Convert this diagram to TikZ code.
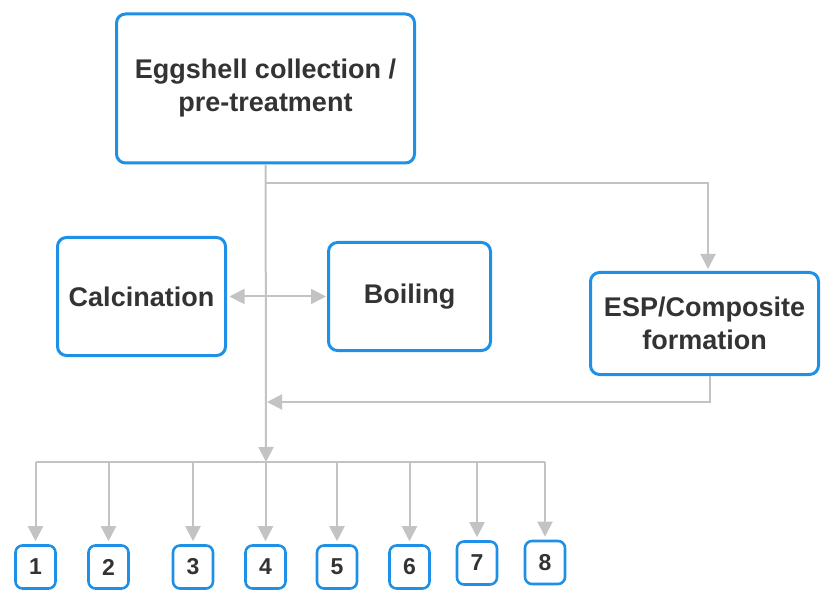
\documentclass[tikz,border=0pt]{standalone}
\usepackage{fontspec}
\setmainfont{Liberation Sans}
\usetikzlibrary{arrows.meta,positioning}
\definecolor{boxblue}{HTML}{1E90E6}
\definecolor{linegray}{HTML}{C3C3C3}
\definecolor{textgray}{HTML}{333333}

\begin{document}
\begin{tikzpicture}[x=1pt,y=-1pt,align=center,text=textgray,
        font=\bfseries\fontsize{27}{33}\selectfont,
        main node/.style={rectangle,draw=boxblue,line width=3pt,rounded corners=9pt,inner sep=0pt},
        num node/.style={main node,minimum width=40pt,minimum height=43pt,rounded corners=7pt,
            line width=2.6pt,font=\bfseries\fontsize{23}{27}\selectfont},
        link/.style={draw=linegray,line width=2pt},
        >={Triangle[length=15pt,width=15pt]}]

    \useasboundingbox (0,0) rectangle (821,593);

    \node[main node,minimum width=298pt,minimum height=149pt] (collect) at (265.5,88.5) {Eggshell collection /\\pre-treatment};
    \node[main node,minimum width=168pt,minimum height=118pt] (calc) at (141.5,296.5) {Calcination};
    \node[main node,minimum width=162pt,minimum height=108pt] (boil) at (409.5,296.5) {Boiling};
    \node[main node,minimum width=228pt,minimum height=102pt] (esp) at (704.5,323.5) {ESP/Composite\\formation};

    % outputs
    \node[num node] (1) at (35.5,567) {1};
    \node[num node] (2) at (108.5,567) {2};
    \node[num node] (3) at (193,567) {3};
    \node[num node] (4) at (265.5,567) {4};
    \node[num node] (5) at (337,567) {5};
    \node[num node] (6) at (409.5,567) {6};
    \node[num node] (7) at (477,563) {7};
    \node[num node] (8) at (545,562.5) {8};

    \coordinate (split) at (266,183);
    \coordinate (join) at (266,402);
    \coordinate (bus) at (266,462);

    \draw[link,->] (collect) -- (bus);
    \draw[link,<->,shorten <=2.5pt,shorten >=1pt] (calc) -- (boil);
    \draw[link,->,shorten >=2pt] (split) -| ([xshift=3.5pt]esp.north);
    \draw[link,->,shorten >=1pt] ([xshift=5.5pt]esp.south) |- (join);

    \draw[link] (1 |- bus) -- (8 |- bus);
    \draw[link,->,shorten >=3pt] (1 |- bus) -- (1);
    \draw[link,->,shorten >=3pt] (2 |- bus) -- (2);
    \draw[link,->,shorten >=3pt] (3 |- bus) -- (3);
    \draw[link,->,shorten >=3pt] (4 |- bus) -- (4);
    \draw[link,->,shorten >=3pt] (5 |- bus) -- (5);
    \draw[link,->,shorten >=3pt] (6 |- bus) -- (6);
    \draw[link,->,shorten >=3pt] (7 |- bus) -- (7);
    \draw[link,->,shorten >=3pt] (8 |- bus) -- (8);
\end{tikzpicture}
\end{document}
